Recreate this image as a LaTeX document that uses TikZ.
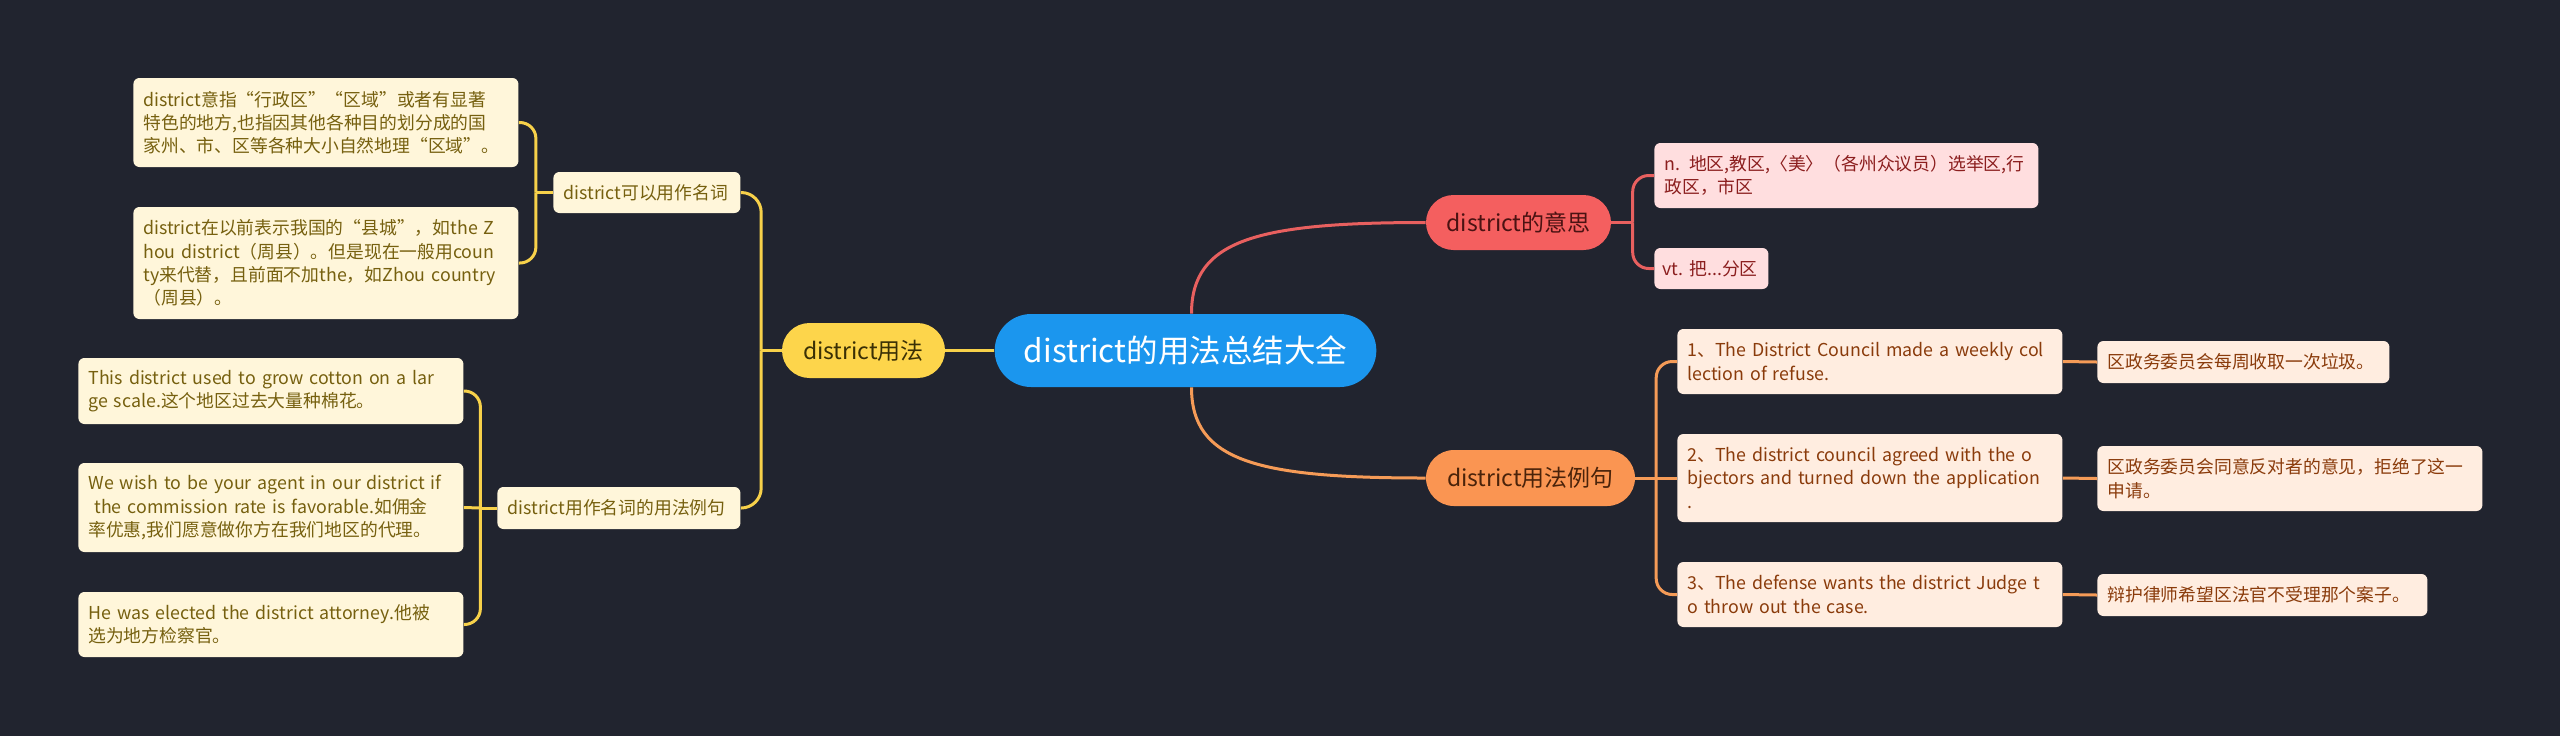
\documentclass[tikz,border=0pt]{standalone}
\usepackage{fontspec}
\setmainfont{Noto Sans CJK SC}
\usetikzlibrary{calc,shapes.misc}
\definecolor{bg}{HTML}{21242F}
\definecolor{cblue}{HTML}{1B96EE}
\definecolor{ypill}{HTML}{FDD54B}
\definecolor{yline}{HTML}{F7D14A}
\definecolor{yleaf}{HTML}{FFF6DA}
\definecolor{ytext}{HTML}{76600F}
\definecolor{ypilltext}{HTML}{3A3005}
\definecolor{rpill}{HTML}{F45F5F}
\definecolor{rline}{HTML}{E8605F}
\definecolor{rleaf}{HTML}{FFDEDF}
\definecolor{rtext}{HTML}{8B1E1E}
\definecolor{rpilltext}{HTML}{4A1212}
\definecolor{opill}{HTML}{FA9552}
\definecolor{oline}{HTML}{F59B57}
\definecolor{oleaf}{HTML}{FFEDE0}
\definecolor{otext}{HTML}{8A3B0B}
\definecolor{opilltext}{HTML}{4A230A}
\begin{document}
\begin{tikzpicture}[x=0.5pt,y=-0.5pt,
  leaf/.style={rectangle,rounded corners=3pt,inner xsep=5pt,inner ysep=1pt,align=left,anchor=west,
    font=\fontsize{8.9pt}{11.65pt}\selectfont},
  yleafs/.style={leaf,fill=yleaf,text=ytext},
  rleafs/.style={leaf,fill=rleaf,text=rtext},
  oleafs/.style={leaf,fill=oleaf,text=otext},
  pill/.style={rounded rectangle,inner xsep=4pt,inner ysep=1pt,align=center,
    font=\fontsize{11.5pt}{14pt}\selectfont},
  yl/.style={draw=yline,line width=1.5pt},
  rl/.style={draw=rline,line width=1.5pt},
  ol/.style={draw=oline,line width=1.5pt},
  corner/.style={rounded corners=8pt}]
\fill[bg] (0,0) rectangle (2560,736);
\useasboundingbox (0,0) rectangle (2560,736);

% center
\node[rounded rectangle,fill=cblue,text=white,minimum width=197.5pt,minimum height=36.5pt,
  font=\fontsize{15.75pt}{18pt}\selectfont] (C) at (1185.5,350.5) {district的用法总结大全};

% main branches
\node[pill,fill=ypill,text=ypilltext,minimum width=89.5pt,minimum height=27.5pt] (Y) at (863.5,350.5) {district用法};
\node[pill,fill=rpill,text=rpilltext,minimum width=100.5pt,minimum height=27.5pt] (R) at (1518.5,222.5) {district的意思};
\node[pill,fill=opill,text=opilltext,minimum width=112.5pt,minimum height=28pt] (O) at (1530.5,478) {district用法例句};

% yellow sub nodes
\node[yleafs,text width=83.5pt,minimum height=20.5pt] (S1) at (553,192.5) {district可以用作名词};
\node[yleafs,text width=111.5pt,minimum height=21pt] (S2) at (497,508) {district用作名词的用法例句};

\node[yleafs,text width=182.5pt,minimum height=44.5pt] (L1) at (133,122.5)
  {district意指“行政区”“区域”或者有显著\\特色的地方,也指因其他各种目的划分成的国\\家州、市、区等各种大小自然地理“区域”。};
\node[yleafs,text width=182.5pt,minimum height=56pt] (L2) at (133,263)
  {district在以前表示我国的“县城”，如the Z\\hou district（周县）。但是现在一般用coun\\ty来代替，且前面不加the，如Zhou country\\（周县）。};

\node[yleafs,text width=182.5pt,minimum height=33pt] (E1) at (78,391)
  {This district used to grow cotton on a lar\\ge scale.这个地区过去大量种棉花。};
\node[yleafs,text width=182.5pt,minimum height=44.5pt] (E2) at (78,507.5)
  {We wish to be your agent in our district if\\\ the commission rate is favorable.如佣金\\率优惠,我们愿意做你方在我们地区的代理。};
\node[yleafs,text width=182.5pt,minimum height=32.5pt] (E3) at (78,624.5)
  {He was elected the district attorney.他被\\选为地方检察官。};

% red leaves
\node[rleafs,text width=182pt,minimum height=32.5pt] (R1) at (1654,175.5)
  {n. 地区,教区,〈美〉（各州众议员）选举区,行\\政区，市区};
\node[rleafs,inner xsep=4pt,text width=49pt,minimum height=20.5pt] (R2) at (1654,268.5) {\mbox{vt.~把...分区}};

% orange leaves
\node[oleafs,text width=182.5pt,minimum height=32.5pt] (O1) at (1677,361.5)
  {1、The District Council made a weekly col\\lection of refuse.};
\node[oleafs,text width=182.5pt,minimum height=44pt] (O2) at (1677,478)
  {2、The district council agreed with the o\\bjectors and turned down the application\\.};
\node[oleafs,text width=182.5pt,minimum height=32.5pt] (O3) at (1677,594.5)
  {3、The defense wants the district Judge t\\o throw out the case.};

\node[oleafs,text width=136pt,minimum height=21pt] (T1) at (2097,362) {区政务委员会每周收取一次垃圾。};
\node[oleafs,text width=182.5pt,minimum height=32.5pt] (T2) at (2097,478.5)
  {区政务委员会同意反对者的意见，拒绝了这一\\申请。};
\node[oleafs,text width=155pt,minimum height=21pt] (T3) at (2097,595) {辩护律师希望区法官不受理那个案子。};

% main connectors
\draw[yl] (C.west) -- (Y.east);
\draw[rl] ($(C.north)+(6,0)$) .. controls ($(C.north)+(6,-74)$) and ($(R.west)+(-168,0)$) .. (R.west);
\draw[ol] ($(C.south)+(6,0)$) .. controls ($(C.south)+(6,74)$) and ($(O.west)+(-168,0)$) .. (O.west);

% yellow brackets
\coordinate (kY) at ($(S1.east)!0.5!(Y.west)$);
\draw[yl] (Y.west) -- (Y.west -| kY);
\draw[yl,rounded corners=10pt] (Y.west -| kY) |- (S1.east);
\draw[yl,rounded corners=10pt] (Y.west -| kY) |- (S2.east);

\coordinate (kL) at ($(L1.east)!0.5!(S1.west)$);
\draw[yl] (S1.west) -- (S1.west -| kL);
\draw[yl,corner] (S1.west -| kL) |- (L1.east);
\draw[yl,corner] (S1.west -| kL) |- (L2.east);

\coordinate (kE) at ($(E1.east)!0.5!(S2.west)$);
\draw[yl] (S2.west) -- (S2.west -| kE);
\draw[yl,corner] (S2.west -| kE) |- (E1.east);
\draw[yl,corner] (S2.west -| kE) -- (E2.east);
\draw[yl,corner] (S2.west -| kE) |- (E3.east);

% red brackets
\coordinate (kR) at ($(R.east)!0.5!(R1.west)$);
\draw[rl] (R.east) -- (R.east -| kR);
\draw[rl,corner] (R.east -| kR) |- (R1.west);
\draw[rl,corner] (R.east -| kR) |- (R2.west);

% orange brackets
\coordinate (kO) at ($(O.east)!0.5!(O1.west)$);
\draw[ol] (O.east) -- (O.east -| kO);
\draw[ol,corner] (O.east -| kO) |- (O1.west);
\draw[ol,corner] (O.east -| kO) -- (O2.west);
\draw[ol,corner] (O.east -| kO) |- (O3.west);

\draw[ol] (O1.east) -- (T1.west);
\draw[ol] (O2.east) -- (T2.west);
\draw[ol] (O3.east) -- (T3.west);
\end{tikzpicture}
\end{document}
